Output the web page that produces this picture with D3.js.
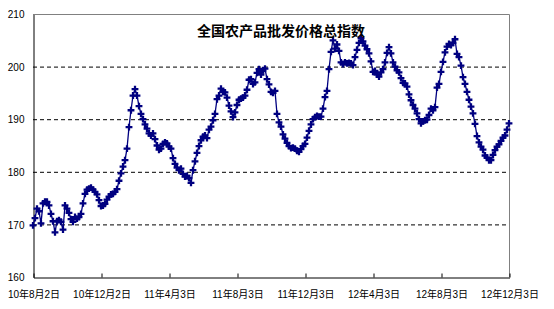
<!DOCTYPE html>
<html>
<head>
<meta charset="utf-8">
<script src="https://cdn.jsdelivr.net/npm/d3@7"></script>
<style>
  body { margin: 0; background: white; }
  svg { display: block; }
</style>
</head>
<body>
<div id="container"></div>
<script>
let w = 554;
let h = 309;

// DATA (index values, one point every ~2px)
let indexValues = [
  169.8, 171.2, 173.0, 172.5, 170.2, 174.0, 174.3, 174.3, 173.6, 172.0,
  170.6, 168.5, 170.6, 170.8, 170.5, 169.0, 173.6, 173.0, 172.2, 171.0,
  170.5, 171.4, 171.1, 171.4, 172.0, 174.0, 175.8, 176.6, 176.8, 177.0,
  176.6, 176.2, 175.7, 174.6, 173.5, 173.6, 173.9, 174.7, 175.3, 175.7,
  175.8, 176.2, 176.7, 178.3, 179.7, 181.0, 182.2, 184.4, 188.5, 191.7,
  194.5, 195.7, 194.5, 192.5, 191.0, 190.0, 189.0, 188.2, 187.3, 186.9,
  187.3, 186.2, 185.0, 184.2, 184.4, 185.3, 185.6, 185.4, 184.8, 184.4,
  182.6, 181.5, 180.8, 180.3, 180.6, 179.6, 179.1, 179.2, 178.8, 177.9,
  180.3, 182.0, 183.6, 184.9, 186.0, 186.7, 186.9, 186.4, 188.0, 188.6,
  189.8, 191.0, 193.8, 194.5, 195.8, 195.2, 195.1, 194.1, 192.6, 191.5,
  190.4, 191.3, 192.7, 193.7, 193.9, 194.1, 194.5, 195.6, 197.5, 197.6,
  196.7, 197.0, 198.8, 199.5, 198.5, 199.3, 199.6, 197.6, 196.6, 195.2,
  195.0, 195.4, 191.0, 189.4, 188.6, 187.1, 186.3, 185.5, 184.9, 184.5,
  184.6, 184.4, 184.0, 183.8, 184.3, 184.9, 185.3, 186.5, 187.8, 189.0,
  190.0, 190.4, 190.6, 190.5, 190.5, 192.0, 194.2, 195.4, 199.5, 202.8,
  205.0, 203.4, 204.2, 203.0, 200.8, 200.5, 200.8, 200.6, 200.7, 200.6,
  200.3, 201.8, 203.2, 204.5, 205.4, 204.8, 204.0, 203.3, 202.5, 201.0,
  199.0, 199.2, 198.5, 198.1, 198.9, 199.5, 200.8, 202.6, 203.7, 202.5,
  200.8, 200.0, 199.3, 198.9, 197.8, 196.9, 196.8, 196.2, 194.7, 193.6,
  192.7, 192.0, 191.1, 190.0, 189.2, 189.6, 189.8, 189.9, 190.8, 192.0,
  191.7, 192.3, 196.0, 196.7, 199.0, 200.9, 202.7, 203.8, 204.3, 204.1,
  204.5, 205.2, 202.4, 201.8, 200.2, 198.0, 196.7, 195.2, 193.7, 192.4,
  191.1, 189.1, 186.8, 185.6, 184.8, 184.2, 183.1, 182.7, 182.2, 182.2,
  183.2, 184.1, 184.8, 185.2, 185.9, 186.5, 186.9, 188.0, 189.2
];

let dateLabels = ["10年8月2日", "10年12月2日", "11年4月3日", "11年8月3日",
  "11年12月3日", "12年4月3日", "12年8月3日", "12年12月3日"];
let labelIndex = [0, 34, 68, 102, 136, 170, 204, 238];

let yTicks = [160, 170, 180, 190, 200, 210];
let gridValues = [170, 180, 190, 200];

let chartTitle = "全国农产品批发价格总指数";

// SVG
let viz = d3.select("#container").append("svg")
    .attr("width", w)
    .attr("height", h)
    .style("background-color", "white");

// SCALES
let xScale = d3.scaleLinear().domain([0, indexValues.length - 1]).range([33, 509]);
let yScale = d3.scaleLinear().domain([160, 210]).range([277, 14]);

// gridlines
viz.selectAll(".grid").data(gridValues).enter()
  .append("line")
    .attr("class", "grid")
    .attr("x1", 33).attr("x2", 509)
    .attr("y1", d => yScale(d) + 0.5)
    .attr("y2", d => yScale(d) + 0.5)
    .attr("stroke", "black")
    .attr("stroke-width", 1)
    .attr("stroke-dasharray", "4,3");

// plot border (top + right are grey)
viz.append("path")
  .attr("d", "M33," + (yScale(210) + 0.5) + "H509.5V277")
  .attr("fill", "none")
  .attr("stroke", "#808080")
  .attr("stroke-width", 1);

// Y AXIS
let yAxis = d3.axisLeft(yScale).tickValues(yTicks).tickSize(0).tickPadding(9);
let yG = viz.append("g")
  .attr("transform", "translate(33.5,0.5)")
  .call(yAxis);
yG.select(".domain").attr("stroke", "black");
yG.selectAll("text")
  .style("font-family", "'Liberation Sans', Arial, sans-serif")
  .style("font-size", "10px")
  .attr("fill", "black");

// X AXIS
let xAxis = d3.axisBottom(xScale)
  .tickValues(labelIndex)
  .tickFormat((d, i) => dateLabels[i])
  .tickSizeInner(-4)
  .tickSizeOuter(0)
  .tickPadding(13);
let xG = viz.append("g")
  .attr("transform", "translate(0.5,277.5)")
  .call(xAxis);
xG.select(".domain").attr("stroke", "black");
xG.selectAll("line").attr("stroke", "black");
xG.selectAll("text")
  .style("font-family", "'Liberation Sans', 'Noto Sans CJK SC', sans-serif")
  .style("font-size", "10px")
  .attr("fill", "black");

// LINE
let lineMaker = d3.line()
  .x((d, i) => xScale(i))
  .y(d => yScale(d));

viz.append("path")
  .datum(indexValues)
  .attr("d", lineMaker)
  .attr("fill", "none")
  .attr("stroke", "#000080")
  .attr("stroke-width", 1.3);

// markers (bold crosses like the Excel original)
let marker = d3.symbol().type(d3.symbolCross).size(26);
viz.selectAll(".pt").data(indexValues).enter()
  .append("path")
    .attr("class", "pt")
    .attr("d", marker)
    .attr("transform", (d, i) => "translate(" + xScale(i) + "," + yScale(d) + ")")
    .attr("fill", "#000080");

// TITLE
viz.append("text")
  .text(chartTitle)
  .attr("x", 281)
  .attr("y", 36)
  .attr("text-anchor", "middle")
  .style("font-family", "'Noto Sans CJK SC', sans-serif")
  .style("font-size", "14px")
  .style("font-weight", "bold")
  .attr("fill", "black");
</script>
</body>
</html>
